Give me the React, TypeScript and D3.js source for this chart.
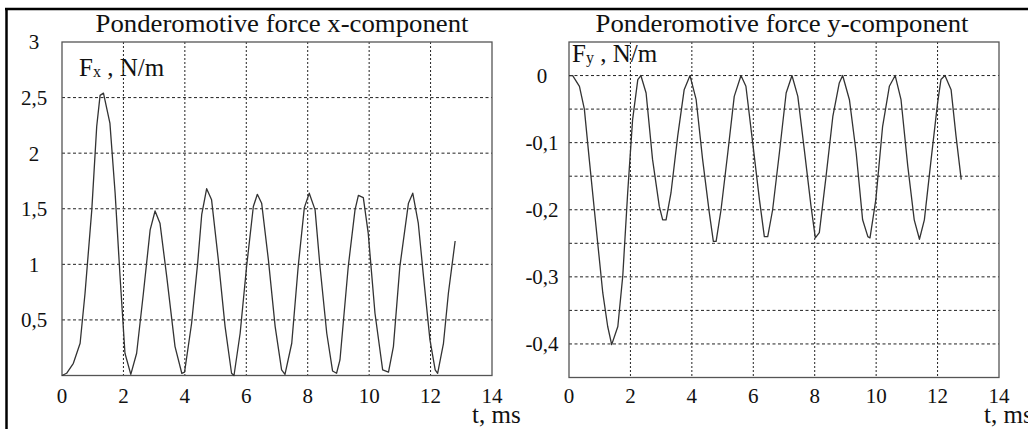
import React from 'react';
import * as d3 from 'd3';

// ---- Data ----
const fxTime = [0, 0.15, 0.37, 0.59, 0.75, 0.97, 1.13, 1.24, 1.35, 1.56, 1.73, 1.89, 2.05, 2.24, 2.43, 2.65, 2.87, 3.03, 3.19, 3.41, 3.68, 3.9, 3.99, 4.22, 4.42, 4.55, 4.71, 4.87, 5.09, 5.31, 5.52, 5.6, 5.8, 6.01, 6.23, 6.36, 6.5, 6.72, 6.94, 7.15, 7.26, 7.48, 7.69, 7.89, 8.05, 8.24, 8.4, 8.62, 8.81, 8.94, 9.05, 9.32, 9.54, 9.65, 9.81, 9.97, 10.19, 10.44, 10.63, 10.79, 11.0, 11.28, 11.42, 11.6, 11.77, 11.98, 12.15, 12.23, 12.42, 12.58, 12.8];
const fxValue = [0, 0.02, 0.11, 0.29, 0.74, 1.49, 2.24, 2.52, 2.54, 2.27, 1.64, 0.89, 0.2, 0.01, 0.2, 0.74, 1.31, 1.48, 1.37, 0.89, 0.26, 0.02, 0.03, 0.47, 1.02, 1.45, 1.68, 1.58, 1.04, 0.44, 0.02, 0, 0.38, 0.98, 1.52, 1.63, 1.55, 1.04, 0.44, 0.05, 0.01, 0.29, 0.98, 1.51, 1.64, 1.49, 0.98, 0.38, 0.04, 0.02, 0.14, 0.98, 1.49, 1.62, 1.6, 1.28, 0.56, 0.05, 0.03, 0.26, 0.98, 1.55, 1.64, 1.37, 0.89, 0.32, 0.05, 0.02, 0.29, 0.74, 1.21];

const fyTime = [0, 0.12, 0.34, 0.5, 0.66, 0.88, 1.1, 1.26, 1.39, 1.59, 1.75, 1.91, 2.07, 2.24, 2.34, 2.51, 2.72, 2.94, 3.05, 3.16, 3.32, 3.54, 3.75, 3.94, 4.14, 4.35, 4.57, 4.7, 4.79, 4.95, 5.17, 5.38, 5.6, 5.76, 5.98, 6.2, 6.36, 6.47, 6.63, 6.85, 7.07, 7.26, 7.45, 7.66, 7.88, 8.02, 8.15, 8.37, 8.59, 8.8, 8.91, 9.13, 9.35, 9.56, 9.73, 9.8, 9.99, 10.21, 10.43, 10.62, 10.81, 11.03, 11.24, 11.41, 11.57, 11.79, 12.0, 12.11, 12.24, 12.44, 12.6, 12.77];
const fyValue = [0, 0, -0.016, -0.05, -0.125, -0.225, -0.324, -0.374, -0.401, -0.374, -0.299, -0.175, -0.066, -0.006, 0, -0.026, -0.125, -0.195, -0.215, -0.215, -0.175, -0.09, -0.021, 0, -0.036, -0.125, -0.205, -0.247, -0.247, -0.2, -0.115, -0.031, 0, -0.016, -0.1, -0.185, -0.24, -0.24, -0.2, -0.115, -0.026, 0, -0.031, -0.11, -0.195, -0.242, -0.234, -0.15, -0.061, -0.011, 0, -0.036, -0.115, -0.215, -0.24, -0.242, -0.185, -0.076, -0.016, 0, -0.036, -0.135, -0.215, -0.244, -0.215, -0.125, -0.041, -0.006, 0, -0.021, -0.09, -0.155];

const xTicks = [0, 2, 4, 6, 8, 10, 12, 14];
const xGrid = [2, 4, 6, 8, 10, 12];
const fxYTicks = [0.5, 1, 1.5, 2, 2.5, 3];
const fxYTickLabels = ['0,5', '1', '1,5', '2', '2,5', '3'];
const fxYGrid = [0.5, 1, 1.5, 2, 2.5];
const fyYTicks = [0, -0.1, -0.2, -0.3, -0.4];
const fyYTickLabels = ['0', '-0,1', '-0,2', '-0,3', '-0,4'];
const fyYGrid = [0, -0.05, -0.1, -0.15, -0.2, -0.25, -0.3, -0.35, -0.4];

const FONT = '"Liberation Serif", "Times New Roman", serif';

type PanelProps = {
  x0: number; x1: number; y0: number; y1: number;
  yDomain: [number, number];
  times: number[]; values: number[];
  yTicks: number[]; yTickLabels: string[]; yGrid: number[];
  yLabelX: number;
  title: string; titleX: number;
  sub: string; subX: number; subY: number;
  tLabelX: number;
};

function Panel(p: PanelProps) {
  const x = d3.scaleLinear().domain([0, 14]).range([p.x0, p.x1]);
  const y = d3.scaleLinear().domain(p.yDomain).range([p.y1, p.y0]);
  const pts: [number, number][] = p.times.map((t, i) => [t, p.values[i]]);
  const line = d3.line<[number, number]>().x(d => x(d[0])).y(d => y(d[1]));
  return (
    <g>
      <text x={p.titleX} y={32} fontSize={25} textAnchor="middle" fill="#111" fontFamily={FONT}
        textLength={373} lengthAdjust="spacingAndGlyphs">{p.title}</text>
      {p.yGrid.map(v => (
        <line key={'h' + v} x1={p.x0} x2={p.x1} y1={y(v)} y2={y(v)} stroke="#222" strokeWidth={1} strokeDasharray="3,2.5" />
      ))}
      {xGrid.map(t => (
        <line key={'v' + t} x1={x(t)} x2={x(t)} y1={p.y0} y2={p.y1} stroke="#222" strokeWidth={1} strokeDasharray="2,2" />
      ))}
      <rect x={p.x0} y={p.y0} width={p.x1 - p.x0} height={p.y1 - p.y0} fill="none" stroke="#555" strokeWidth={1.3} />
      <path d={line(pts) || ''} fill="none" stroke="#333" strokeWidth={1.3} strokeLinejoin="round" />
      {p.yTicks.map((v, i) => (
        <text key={'yl' + v} x={p.yLabelX} y={y(v)} dy="0.35em" fontSize={21} textAnchor="middle" fill="#111" fontFamily={FONT}>{p.yTickLabels[i]}</text>
      ))}
      {xTicks.map(t => (
        <text key={'xl' + t} x={x(t)} y={396} dy="0.35em" fontSize={21} textAnchor="middle" fill="#111" fontFamily={FONT}>{t}</text>
      ))}
      <text x={p.subX} y={p.subY} fontSize={25} fill="#111" fontFamily={FONT}>
        F<tspan fontSize={16} dy={1}>{p.sub}</tspan><tspan dy={-1} fontSize={25}> , N/m</tspan>
      </text>
      <text x={p.tLabelX} y={423} fontSize={25} fill="#111" fontFamily={FONT}>t, ms</text>
    </g>
  );
}

export default function App() {
  return (
    <svg width={1028} height={429} style={{ position: 'absolute', left: 0, top: 0, background: '#fff' }}>
      <rect x={0} y={0} width={1028} height={429} fill="#fff" />
      <Panel x0={62} x1={492} y0={42} y1={375.5} yDomain={[0, 3]}
        times={fxTime} values={fxValue}
        yTicks={fxYTicks} yTickLabels={fxYTickLabels} yGrid={fxYGrid} yLabelX={34}
        title="Ponderomotive force x-component" titleX={282}
        sub="x" subX={79} subY={76} tLabelX={472} />
      <Panel x0={569} x1={999} y0={42} y1={377.5} yDomain={[-0.45, 0.05]}
        times={fyTime} values={fyValue}
        yTicks={fyYTicks} yTickLabels={fyYTickLabels} yGrid={fyYGrid} yLabelX={542}
        title="Ponderomotive force y-component" titleX={782}
        sub="y" subX={572} subY={62} tLabelX={984} />
      <line x1={5} x2={1028} y1={9} y2={9} stroke="#000" strokeWidth={2.5} />
      <line x1={6.5} x2={6.5} y1={8} y2={429} stroke="#000" strokeWidth={2.5} />
    </svg>
  );
}
